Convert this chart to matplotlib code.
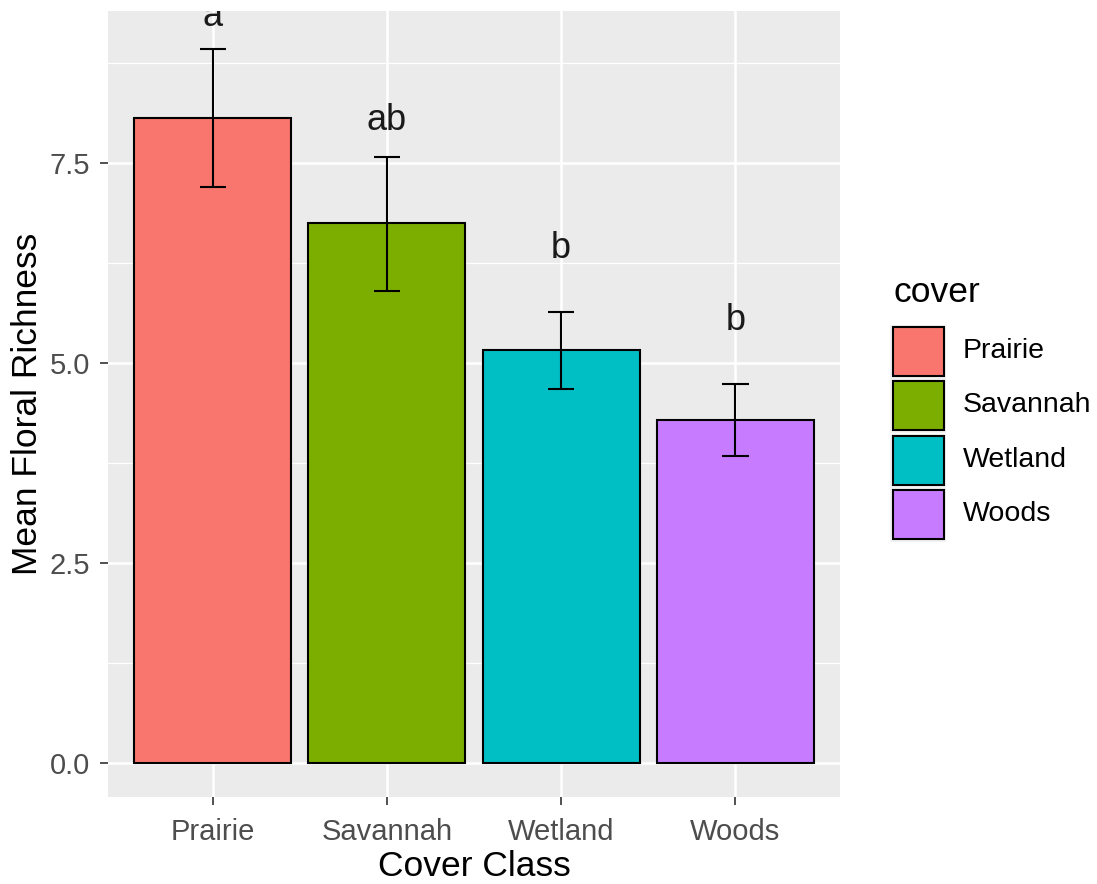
import matplotlib
matplotlib.use("Agg")
import matplotlib.pyplot as plt
from matplotlib.patches import Rectangle

plt.rcParams['font.family'] = ['Liberation Sans', 'DejaVu Sans']

categories = ["Prairie", "Savannah", "Wetland", "Woods"]
means = [8.06, 6.75, 5.16, 4.28]
err_low = [7.20, 5.90, 4.67, 3.84]
err_high = [8.92, 7.58, 5.63, 4.74]
letters = ["a", "ab", "b", "b"]
letter_y = [9.33, 8.03, 6.43, 5.53]
colors = ["#F8766D", "#7CAE00", "#00BFC4", "#C77CFF"]
yticks = [0.0, 2.5, 5.0, 7.5]
yticklabels = ["0.0", "2.5", "5.0", "7.5"]

W, H = 1097, 884
fig = plt.figure(figsize=(W / 100, H / 100), dpi=100)
fig.patch.set_facecolor("white")

def fx(px):
    return px / W

def fy(py):
    return 1 - py / H

ax = fig.add_axes([fx(108), fy(797), fx(840) - fx(108), fy(11) - fy(797)])
ax.set_facecolor("#EBEBEB")
x = list(range(1, len(categories) + 1))
ax.set_xlim(0.4, 4.6)
ax.set_ylim(-0.43, 9.4)

# grid
for yv in [1.25, 3.75, 6.25, 8.75]:
    ax.axhline(yv, color="white", lw=0.9, zorder=0)
for yv in yticks:
    ax.axhline(yv, color="white", lw=1.8, zorder=0)
for xv in x:
    ax.axvline(xv, color="white", lw=1.8, zorder=0)

ax.bar(x, means, width=0.9, color=colors, edgecolor="black", linewidth=1.5, zorder=2)
cap = 0.075
for xi, lo, hi in zip(x, err_low, err_high):
    ax.vlines(xi, lo, hi, color="black", lw=1.5, zorder=3)
    ax.hlines([lo, hi], xi - cap, xi + cap, color="black", lw=1.5, zorder=3)
for xi, t, yl in zip(x, letters, letter_y):
    ax.text(xi, yl, t, ha="center", va="center", fontsize=26, color="#1a1a1a",
            clip_on=True, zorder=4)

for s in ax.spines.values():
    s.set_visible(False)
ax.set_xticks(x)
ax.set_xticklabels(categories)
ax.set_yticks(yticks)
ax.set_yticklabels(yticklabels)
ax.tick_params(axis="both", colors="#333333", labelcolor="#4D4D4D", labelsize=21,
               length=6, width=1.2)
ax.tick_params(axis="x", pad=9)
ax.tick_params(axis="y", pad=7)
ax.set_xlabel("Cover Class", fontsize=25.5, color="black")
ax.set_ylabel("Mean Floral Richness", fontsize=25.5, color="black")
ax.xaxis.set_label_coords(0.5, (797 - 867) / 786, transform=ax.transAxes)
ax.xaxis.label.set_va("center")
ax.yaxis.set_label_coords((28 - 108) / 732, 0.5, transform=ax.transAxes)
ax.yaxis.label.set_va("center")

# legend
fig.text(fx(893), fy(293), "cover", fontsize=25.5, ha="left", va="center", color="black")
key_tops = [325, 379, 434, 488]
for top, c, lab in zip(key_tops, colors, categories):
    fig.patches.append(Rectangle((fx(890), fy(top + 54)), fx(56), fy(top) - fy(top + 54),
                                 transform=fig.transFigure, facecolor="#F2F2F2",
                                 edgecolor="none"))
    fig.patches.append(Rectangle((fx(893), fy(top + 51)), fx(51), fy(top) - fy(top + 49),
                                 transform=fig.transFigure, facecolor=c,
                                 edgecolor="black", linewidth=1.5))
    fig.text(fx(963), fy(top + 26), lab, fontsize=20.5, ha="left", va="center", color="black")

fig.savefig("out.png", dpi=100)
